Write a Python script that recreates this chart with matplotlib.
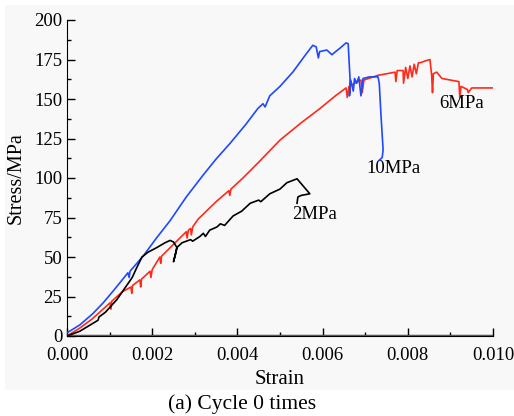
import matplotlib
matplotlib.use("Agg")
import matplotlib.pyplot as plt
from matplotlib.patches import Rectangle
from matplotlib.ticker import MultipleLocator

plt.rcParams['font.family'] = ['Liberation Serif', 'DejaVu Serif']

# 10 MPa (blue)
strain_10 = [0, 0.0003, 0.0006, 0.00085, 0.0011, 0.00143, 0.00146, 0.00148, 0.0018, 0.0021,
             0.00242, 0.0028, 0.0032, 0.0035, 0.00383, 0.0042, 0.00448, 0.0046, 0.00465, 0.00476,
             0.0050, 0.0053, 0.0056, 0.00577, 0.00585, 0.0059, 0.00593, 0.0061, 0.00622, 0.00626,
             0.0064, 0.00655, 0.0066, 0.00663, 0.00665, 0.00663, 0.00666, 0.00672, 0.00675, 0.0068,
             0.00685, 0.0069, 0.00695, 0.0071, 0.0073, 0.00733, 0.00737, 0.00742, 0.0074, 0.00732]
stress_10 = [2, 7, 14, 21, 29, 40, 37, 41, 51, 62,
             73, 88, 102, 112, 122, 134, 144, 147, 145, 152,
             158, 167, 178, 184, 183, 176, 180, 181, 178, 179,
             182, 185.5, 185, 170, 160, 152, 162, 155, 163, 160,
             164, 152, 163, 164, 164, 160, 140, 118, 113, 111]

# 6 MPa (red)
strain_6 = [0, 0.0003, 0.0006, 0.00101, 0.00103, 0.00105, 0.0013, 0.0015, 0.00152, 0.00154,
            0.00171, 0.00173, 0.00175, 0.00195, 0.00197, 0.002, 0.00218, 0.0022, 0.00222, 0.0025,
            0.0028, 0.00282, 0.00285, 0.0029, 0.00292, 0.00295, 0.00308, 0.0035, 0.0038, 0.00382,
            0.00385, 0.00413, 0.0045, 0.005, 0.0055, 0.00594, 0.0063, 0.00655, 0.00658, 0.00662,
            0.0069, 0.00693, 0.00697, 0.0073, 0.00751, 0.0077, 0.00772, 0.00775, 0.00789, 0.0079,
            0.00795, 0.008, 0.00805, 0.0081, 0.00815, 0.0082, 0.00825, 0.0083, 0.0084, 0.00852,
            0.00856, 0.00858, 0.0086, 0.00868, 0.0088, 0.009, 0.0092, 0.00922, 0.00925, 0.0094,
            0.00942, 0.0095, 0.0097, 0.01]
stress_6 = [0, 5, 11, 21, 17, 22, 28, 31, 27, 32,
            35.5, 31, 36, 41, 37, 42, 50, 46, 50.5, 58,
            66, 62, 67, 68, 64, 69, 74, 85, 92, 89,
            93, 100, 110, 124, 135, 144, 152, 157, 151, 158,
            162, 154, 162, 165, 166, 167, 161, 168, 168, 160,
            170, 163, 171, 164, 172, 166, 173, 173, 174, 175,
            165, 154, 166, 167, 163, 162, 161, 151, 158, 156,
            154, 157, 157, 157]

# 2 MPa (black)
strain_2 = [0, 0.0003, 0.00073, 0.00075, 0.0009, 0.00117, 0.00135, 0.00153, 0.00165, 0.00176,
            0.0019, 0.00211, 0.0023, 0.00242, 0.0025, 0.00258, 0.00255, 0.0025, 0.00258, 0.0027,
            0.0029, 0.00295, 0.00312, 0.0032, 0.00325, 0.00335, 0.00352, 0.0036, 0.0037, 0.0039,
            0.0041, 0.0043, 0.0045, 0.00455, 0.00476, 0.005, 0.00516, 0.0054, 0.0057, 0.0055,
            0.00542, 0.0054]
stress_2 = [0, 3, 10, 12, 15, 23, 30, 37, 44, 50,
            53, 56, 59, 60.5, 59.5, 56, 52, 47, 56, 59,
            61, 60, 63, 65, 63, 67, 69, 71, 70, 76,
            79, 84, 86, 85, 90, 93, 97, 99.5, 90, 89,
            88, 84]

labels = ["2MPa", "10MPa", "6MPa"]
label_pos = [(0.00582, 77), (0.00767, 106), (0.00927, 147)]

fig = plt.figure(figsize=(5.14, 4.16), dpi=100, facecolor='white')
fig.patches.append(Rectangle((5/514, 26/416), 509/514, 385/416, transform=fig.transFigure,
                             facecolor='#f8f8f8', edgecolor='none', zorder=-10))
ax = fig.add_axes([67/514, 80/416, 426/514, 316/416])
ax.set_facecolor('none')

ax.plot([0, 0.01], [0, 0], color='black', lw=2.4, zorder=1)
ax.plot([0, 0.01], [0, 0], color='#ff2a1a', lw=1.3, zorder=2)
ax.plot(strain_6, stress_6, color='#ff2a1a', lw=1.2, zorder=3)
ax.plot(strain_10, stress_10, color='#1f48ff', lw=1.2, zorder=4)
ax.plot(strain_2, stress_2, color='black', lw=1.2, zorder=5)

for t, (x, y) in zip(labels, label_pos):
    ax.text(x, y, t, fontsize=13.5, ha='center', va='center')

ax.set_xlim(0, 0.010)
ax.set_ylim(0, 200)
ax.xaxis.set_major_locator(MultipleLocator(0.002))
ax.xaxis.set_minor_locator(MultipleLocator(0.001))
ax.yaxis.set_major_locator(MultipleLocator(25))
ax.yaxis.set_minor_locator(MultipleLocator(12.5))
ax.xaxis.set_major_formatter(matplotlib.ticker.FormatStrFormatter('%.3f'))
ax.tick_params(which='major', direction='in', length=6, width=1, labelsize=13.5)
ax.tick_params(axis='x', which='major', pad=8)
ax.tick_params(which='minor', direction='in', length=3, width=1)
ax.spines['top'].set_visible(False)
ax.spines['right'].set_visible(False)
ax.set_xlabel('Strain', fontsize=15, labelpad=4)
ax.set_ylabel('Stress/MPa', fontsize=14.5, labelpad=6)
fig.text(242/514, 404/416 * 0 + 12/416, '(a) Cycle 0 times', fontsize=15.5, ha='center', va='center')

fig.savefig('out.png', dpi=100, facecolor='white')
